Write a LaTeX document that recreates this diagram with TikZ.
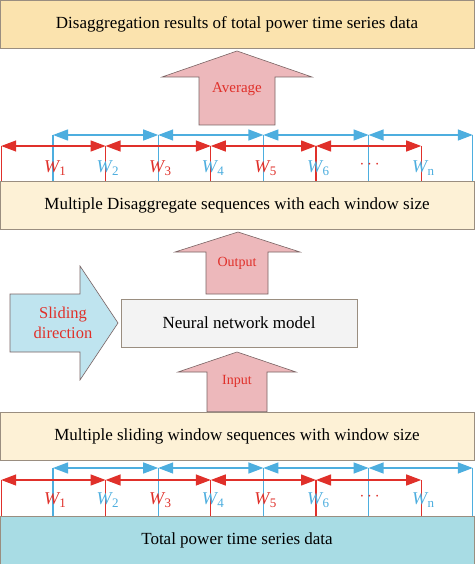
\documentclass[tikz,border=0pt]{standalone}
\usepackage{fontspec}
\setmainfont{Liberation Serif}
\usetikzlibrary{arrows.meta}
\definecolor{boxA}{HTML}{FBE3AE}
\definecolor{boxB}{HTML}{FDF1D6}
\definecolor{boxC}{HTML}{A8DCE4}
\definecolor{edgeC}{HTML}{9A8E80}
\definecolor{pinkF}{HTML}{EDB8BB}
\definecolor{pinkE}{HTML}{7A6464}
\definecolor{redW}{HTML}{E0302A}
\definecolor{blueW}{HTML}{4DAEDF}
\definecolor{skyF}{HTML}{BFE4EF}
\definecolor{nnF}{HTML}{F3F3F3}
\newcommand{\wlab}[1]{{\itshape W}\kern0.5pt\raisebox{-3.5pt}{\fontsize{13}{15}\selectfont #1}}
\begin{document}
\begin{tikzpicture}[x=1pt,y=-1pt,
  band/.style={draw=edgeC, line width=0.8pt, minimum width=474pt, minimum height=48pt, inner sep=0pt, font=\fontsize{17}{20}\selectfont},
  blockarrow/.style={fill=pinkF, draw=pinkE, line width=0.6pt},
  redtxt/.style={text=redW},
  redarr/.style={draw=redW, line width=1.3pt, {Triangle[length=15pt,width=11pt]}-{Triangle[length=15pt,width=11pt]}},
  bluearr/.style={draw=blueW, line width=1.3pt, {Triangle[length=15pt,width=11pt]}-{Triangle[length=15pt,width=11pt]}},
  redtick/.style={draw=redW, line width=1.3pt},
  bluetick/.style={draw=blueW, line width=1.3pt},
  wlabel/.style={font=\fontsize{18}{20}\selectfont, inner sep=0pt}
]
\useasboundingbox (0,0) rectangle (474,564);
\fill[white] (0,0) rectangle (474,564);

% window rows
\foreach \r/\yb/\yr/\yl/\ye in {A/135/146/168/181, B/468/480/500/516} {
  \foreach \k in {1,...,8} {
    \coordinate (\r t\k) at ({53+52.6*(\k-1)},\yb);
    \coordinate (\r s\k) at ({53+52.6*(\k-1)},\yr);
    \coordinate (\r e\k) at ({53+52.6*(\k-1)},\ye);
  }
  \coordinate (\r L) at (1.2,\yr);
  \coordinate (\r Lb) at (1.2,\ye);
  \coordinate (\r R) at (472.8,\yb);
  \coordinate (\r Rb) at (472.8,\ye);
  \draw[redtick] (\r L) -- (\r Lb);
  \draw[bluetick] (\r R) -- (\r Rb);
  \foreach \k in {1,3,5,7} { \draw[bluetick] (\r t\k) -- (\r e\k); }
  \foreach \k in {2,4,6,8} { \draw[redtick] (\r s\k) -- (\r e\k); }
  \draw[redarr] (\r L) -- (\r s2);
  \draw[redarr] (\r s2) -- (\r s4);
  \draw[redarr] (\r s4) -- (\r s6);
  \draw[redarr] (\r s6) -- (\r s8);
  \draw[bluearr] (\r t1) -- (\r t3);
  \draw[bluearr] (\r t3) -- (\r t5);
  \draw[bluearr] (\r t5) -- (\r t7);
  \draw[bluearr] (\r t7) -- (\r R);
  \node[wlabel, text=redW]  (\r w1) at ({53+52.6*0+2},\yl) {\wlab{1}};
  \node[wlabel, text=blueW] (\r w2) at ({53+52.6*1+2},\yl) {\wlab{2}};
  \node[wlabel, text=redW]  (\r w3) at ({53+52.6*2+2},\yl) {\wlab{3}};
  \node[wlabel, text=blueW] (\r w4) at ({53+52.6*3+2},\yl) {\wlab{4}};
  \node[wlabel, text=redW]  (\r w5) at ({53+52.6*4+2},\yl) {\wlab{5}};
  \node[wlabel, text=blueW] (\r w6) at ({53+52.6*5+2},\yl) {\wlab{6}};
  \node[wlabel, text=redW]  (\r w7) at ({53+52.6*6+1},\yl-3) {$\cdots$};
  \node[wlabel, text=blueW] (\r w8) at ({53+52.6*7+2},\yl) {\wlab{n}};
}

% bands
\node[band, fill=boxA] (res) at (237,24) {Disaggregation results of total power time series data};
\node[band, fill=boxB] (dis) at (237,205) {Multiple Disaggregate sequences with each window size};
\node[band, fill=boxB] (sli) at (237,436) {Multiple sliding window sequences with window size};
\node[band, fill=boxC] (tot) at (237,540) {Total power time series data};

% block arrows
\draw[blockarrow] (237,51) -- (312,77) -- (275,77) -- (275,125) -- (199,125) -- (199,77) -- (162,77) -- cycle;
\node[redtxt, font=\fontsize{15}{17}\selectfont] (avg) at (237,89) {Average};

\draw[blockarrow] (238,232) -- (300,252) -- (268,252) -- (268,294) -- (206,294) -- (206,252) -- (175,252) -- cycle;
\node[redtxt, font=\fontsize{14}{16}\selectfont] (out) at (237,263) {Output};

\draw[blockarrow] (237,352) -- (296,372) -- (267,372) -- (267,411.6) -- (207,411.6) -- (207,372) -- (178,372) -- cycle;
\node[redtxt, font=\fontsize{14}{16}\selectfont] (inp) at (237,381) {Input};

\draw[fill=skyF, draw=pinkE, line width=0.6pt] (10,294) -- (80,294) -- (80,266) -- (118,323) -- (80,380) -- (80,352) -- (10,352) -- cycle;
\node[redtxt, align=center, font=\fontsize{16.5}{20}\selectfont] (slide) at (63,323) {Sliding\\direction};

\node[draw=edgeC, fill=nnF, line width=0.6pt, minimum width=236pt, minimum height=48pt, inner sep=0pt, font=\fontsize{17}{20}\selectfont] (nn) at (239,323) {Neural network model};
\end{tikzpicture}
\end{document}
